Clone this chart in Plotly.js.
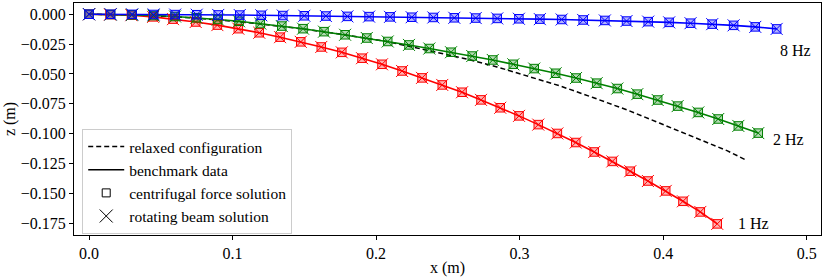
<!DOCTYPE html>
<html>
<head>
<meta charset="utf-8">
<script src="https://cdn.plot.ly/plotly-3.0.1.min.js"></script>
<style>html,body{margin:0;padding:0;background:#fff;}#chart{width:830px;height:277px;}</style>
</head>
<body>
<div id="chart"></div>
<script>
// 1 Hz (red)
const x1Hz = [0, 0.0146, 0.0295, 0.0446, 0.0585, 0.0743, 0.0894, 0.1040, 0.1186, 0.1331, 0.1475, 0.1618, 0.1761, 0.1902, 0.2041, 0.2181, 0.2320, 0.2461, 0.2599, 0.2731, 0.2865, 0.2996, 0.3130, 0.3263, 0.3391, 0.3520, 0.3646, 0.3771, 0.3894, 0.4018, 0.4138, 0.4259, 0.4377];
const z1Hz = [0, -0.0003, -0.0008, -0.0022, -0.0041, -0.0065, -0.0091, -0.0121, -0.0155, -0.0192, -0.0231, -0.0274, -0.0319, -0.0368, -0.0419, -0.0475, -0.0533, -0.0592, -0.0653, -0.0717, -0.0783, -0.0851, -0.0924, -0.0998, -0.1074, -0.1153, -0.1232, -0.1314, -0.1396, -0.1479, -0.1566, -0.1655, -0.1755];
// 2 Hz (green)
const x2Hz = [0, 0.0150, 0.0300, 0.0449, 0.0599, 0.0748, 0.0897, 0.1045, 0.1193, 0.1343, 0.1491, 0.1637, 0.1784, 0.1935, 0.2081, 0.2229, 0.2371, 0.2522, 0.2670, 0.2813, 0.2956, 0.3102, 0.3251, 0.3393, 0.3537, 0.3681, 0.3820, 0.3962, 0.4101, 0.4245, 0.4384, 0.4524, 0.4663];
const z2Hz = [0, -0.0002, -0.0005, -0.0011, -0.0019, -0.0030, -0.0044, -0.0059, -0.0078, -0.0099, -0.0121, -0.0146, -0.0172, -0.0199, -0.0228, -0.0257, -0.0287, -0.0318, -0.0350, -0.0383, -0.0419, -0.0455, -0.0494, -0.0534, -0.0577, -0.0622, -0.0669, -0.0718, -0.0769, -0.0822, -0.0877, -0.0935, -0.0995];
// 8 Hz (blue)
const x8Hz = [0, 0.0150, 0.0300, 0.0450, 0.0600, 0.0750, 0.0900, 0.1050, 0.1200, 0.1350, 0.1500, 0.1650, 0.1800, 0.1951, 0.2097, 0.2248, 0.2399, 0.2545, 0.2694, 0.2844, 0.2995, 0.3141, 0.3293, 0.3443, 0.3594, 0.3745, 0.3896, 0.4042, 0.4191, 0.4342, 0.4491, 0.4642, 0.4791];
const z8Hz = [0, -0.00003, -0.0001, -0.0002, -0.0003, -0.0004, -0.0006, -0.0007, -0.0009, -0.0011, -0.0013, -0.0015, -0.0018, -0.0020, -0.0022, -0.0025, -0.0027, -0.0030, -0.0032, -0.0035, -0.0038, -0.0041, -0.0044, -0.0048, -0.0052, -0.0057, -0.0062, -0.0068, -0.0075, -0.0083, -0.0093, -0.0106, -0.0123];
// relaxed configuration (dashed)
const xRelaxed = [0, 0.0300, 0.0599, 0.0892, 0.1191, 0.1490, 0.1783, 0.2076, 0.2376, 0.2606, 0.2842, 0.3072, 0.3281, 0.3511, 0.3748, 0.3978, 0.4208, 0.4445, 0.4570];
const zRelaxed = [0, -0.0006, -0.0021, -0.0046, -0.0081, -0.0123, -0.0172, -0.0228, -0.0307, -0.0368, -0.0441, -0.0521, -0.0600, -0.0697, -0.0801, -0.0913, -0.1027, -0.1142, -0.1216];

const seriesNames = ["1 Hz", "2 Hz", "8 Hz"];
const labelX = [0.4512, 0.4756, 0.4807];
const labelZ = [-0.1755, -0.1052, -0.0307];
const legendNames = ["relaxed configuration", "benchmark data", "centrifugal force solution", "rotating beam solution"];
const xTicks = [0.0, 0.1, 0.2, 0.3, 0.4, 0.5];
const yTicks = [0.000, -0.025, -0.050, -0.075, -0.100, -0.125, -0.150, -0.175];

const FONT = "Liberation Serif";
const FS = 16;
const series = [
  {x: x1Hz, z: z1Hz, color: "#ff0000", fill: "rgba(255,0,0,0.3)"},
  {x: x2Hz, z: z2Hz, color: "#008000", fill: "rgba(0,128,0,0.3)"},
  {x: x8Hz, z: z8Hz, color: "#0000ff", fill: "rgba(0,0,255,0.3)"}
];

const traces = [];
traces.push({x: xRelaxed, y: zRelaxed, mode: "lines", line: {color: "#000", width: 1.5, dash: "5px,3px"}, showlegend: false, hoverinfo: "skip"});
series.forEach(s => {
  traces.push({x: s.x, y: s.z, mode: "lines", line: {color: s.color, width: 1.6}, showlegend: false});
});
series.forEach(s => {
  traces.push({x: s.x, y: s.z, mode: "markers", marker: {symbol: "square", size: 8.5, color: s.fill, line: {color: s.color, width: 1}}, showlegend: false});
  traces.push({x: s.x, y: s.z, mode: "markers", marker: {symbol: "x-thin-open", size: 12, color: s.color, line: {color: s.color, width: 1}}, showlegend: false});
});
// legend entries
traces.push({x: [null], y: [null], mode: "lines", name: legendNames[0], line: {color: "#000", width: 1.5, dash: "5px,3px"}});
traces.push({x: [null], y: [null], mode: "lines", name: legendNames[1], line: {color: "#000", width: 1.6}});
traces.push({x: [null], y: [null], mode: "markers", name: legendNames[2], marker: {symbol: "square-open", size: 8, color: "#000", line: {width: 1}}});
traces.push({x: [null], y: [null], mode: "markers", name: legendNames[3], marker: {symbol: "x-thin-open", size: 13, color: "#000", line: {color: "#000", width: 1}}});

const layout = {
  width: 830, height: 277,
  margin: {l: 74, r: 9, t: 3, b: 42},
  paper_bgcolor: "#fff", plot_bgcolor: "#fff",
  font: {family: FONT, size: FS, color: "#000"},
  showlegend: true,
  legend: {x: 0.011, y: 0.2306, xanchor: "left", yanchor: "middle", itemwidth: 36, bgcolor: "rgba(255,255,255,0.8)", bordercolor: "#cccccc", borderwidth: 1, font: {family: FONT, size: 15.5}, tracegroupgap: 0},
  xaxis: {
    range: [-0.0105, 0.510], tickvals: xTicks, tickformat: ".1f",
    showline: true, mirror: true, linecolor: "#000", linewidth: 1,
    ticks: "outside", ticklen: 4, tickcolor: "#000", showgrid: false, zeroline: false,
    tickfont: {family: FONT, size: FS},
    title: {text: "x (m)", standoff: 4, font: {family: FONT, size: FS}}
  },
  yaxis: {
    range: [-0.1848, 0.0094], tickvals: yTicks, tickformat: ".3f",
    showline: true, mirror: true, linecolor: "#000", linewidth: 1,
    ticks: "outside", ticklen: 4, tickcolor: "#000", showgrid: false, zeroline: false,
    tickfont: {family: FONT, size: FS},
    title: {text: "z (m)", standoff: 1, font: {family: FONT, size: FS}}
  },
  annotations: seriesNames.map((t, i) => ({
    x: labelX[i], y: labelZ[i], xref: "x", yref: "y", text: t, showarrow: false,
    xanchor: "left", yanchor: "middle", borderpad: 0, font: {family: FONT, size: FS}
  }))
};

Plotly.newPlot("chart", traces, layout, {staticPlot: true, displayModeBar: false});
</script>
</body>
</html>
